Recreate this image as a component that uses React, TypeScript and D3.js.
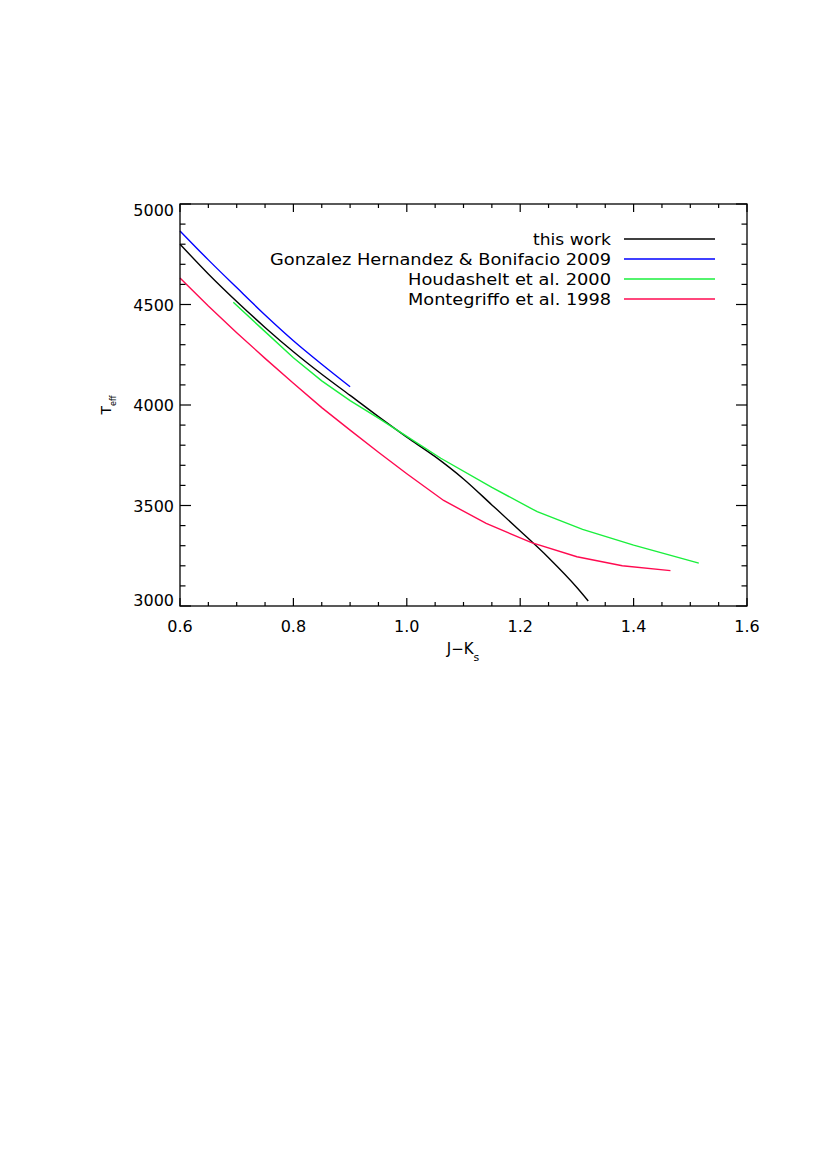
import React from "react";
import * as d3 from "d3";

// J-Ks vs Teff relations
const thisWorkJK = [0.6, 0.65, 0.7, 0.75, 0.8, 0.85, 0.9, 0.95, 1.0, 1.05, 1.1, 1.15, 1.2, 1.25, 1.3, 1.32];
const thisWorkTeff = [4800, 4652, 4515, 4386, 4265, 4153, 4048, 3942, 3840, 3743, 3632, 3503, 3373, 3240, 3092, 3025];

const ghbJK = [0.6, 0.65, 0.7, 0.75, 0.8, 0.85, 0.9];
const ghbTeff = [4866, 4722, 4584, 4448, 4320, 4203, 4091];

const houdJK = [0.694, 0.75, 0.8, 0.85, 0.9, 0.95, 1.0, 1.06, 1.15, 1.23, 1.31, 1.4, 1.515];
const houdTeff = [4511, 4365, 4235, 4120, 4022, 3935, 3844, 3735, 3590, 3469, 3381, 3303, 3213];

const montJK = [0.6, 0.65, 0.7, 0.75, 0.8, 0.85, 0.9, 0.95, 1.0, 1.065, 1.14, 1.22, 1.3, 1.38, 1.465];
const montTeff = [4632, 4492, 4360, 4232, 4108, 3987, 3875, 3765, 3658, 3525, 3411, 3315, 3245, 3200, 3176];

const legendLabels = [
  "this work",
  "Gonzalez Hernandez & Bonifacio 2009",
  "Houdashelt et al. 2000",
  "Montegriffo et al. 1998",
];
const legendWidths = [78, 341, 203, 203];
const colors = ["#000000", "#0000ff", "#1aef3c", "#ff0a50"];

const xMajor = [0.6, 0.8, 1.0, 1.2, 1.4, 1.6];
const yMajor = [3000, 3500, 4000, 4500, 5000];

const FONT = "'DejaVu Sans', 'Liberation Sans', sans-serif";

const App = () => {
  const left = 180, right = 747, top = 204, bottom = 606;
  const x = d3.scaleLinear().domain([0.6, 1.6]).range([left, right]);
  const y = d3.scaleLinear().domain([3000, 5000]).range([bottom, top]);

  const xMinor = d3.range(0, 21).map((i) => 0.6 + i * 0.05);
  const yMinor = d3.range(0, 21).map((i) => 3000 + i * 100);

  const series = [
    { jk: thisWorkJK, t: thisWorkTeff, curve: d3.curveMonotoneX },
    { jk: ghbJK, t: ghbTeff, curve: d3.curveMonotoneX },
    { jk: houdJK, t: houdTeff, curve: d3.curveLinear },
    { jk: montJK, t: montTeff, curve: d3.curveLinear },
  ];

  const isMajorX = (v) => xMajor.some((m) => Math.abs(m - v) < 1e-6);
  const isMajorY = (v) => yMajor.some((m) => Math.abs(m - v) < 1e-6);

  return (
    <svg width={830} height={1175} style={{ position: "absolute", left: 0, top: 0, background: "#fff" }}>
      {/* curves */}
      {series.map((s, i) => {
        const line = d3
          .line()
          .x((d) => x(d[0]))
          .y((d) => y(d[1]))
          .curve(s.curve);
        const pts = s.jk.map((v, j) => [v, s.t[j]]);
        return <path key={i} d={line(pts)} fill="none" stroke={colors[i]} strokeWidth={1.4} />;
      })}

      {/* frame */}
      <rect x={left} y={top} width={right - left} height={bottom - top} fill="none" stroke="#000" strokeWidth={1.3} />

      {/* x ticks, bottom and top */}
      {xMinor.map((v, i) => {
        const len = isMajorX(v) ? 8 : 4;
        return (
          <g key={"xt" + i}>
            <line x1={x(v)} x2={x(v)} y1={bottom} y2={bottom - len} stroke="#000" strokeWidth={1.2} />
            <line x1={x(v)} x2={x(v)} y1={top} y2={top + len} stroke="#000" strokeWidth={1.2} />
          </g>
        );
      })}
      {/* y ticks, left and right */}
      {yMinor.map((v, i) => {
        const len = isMajorY(v) ? 11 : 5.5;
        return (
          <g key={"yt" + i}>
            <line x1={left} x2={left + len} y1={y(v)} y2={y(v)} stroke="#000" strokeWidth={1.2} />
            <line x1={right} x2={right - len} y1={y(v)} y2={y(v)} stroke="#000" strokeWidth={1.2} />
          </g>
        );
      })}

      {/* tick labels */}
      {xMajor.map((v) => (
        <text key={"xl" + v} x={x(v)} y={632} textAnchor="middle" fontFamily={FONT} fontSize={16} fill="#000">
          {d3.format(".1f")(v)}
        </text>
      ))}
      {yMajor.map((v) => {
        let cy = y(v);
        if (v === 5000) cy += 6;
        if (v === 3000) cy -= 6;
        return (
          <text key={"yl" + v} x={174} y={cy + 6} textAnchor="end" fontFamily={FONT} fontSize={16} fill="#000">
            {v}
          </text>
        );
      })}

      {/* axis titles */}
      <text x={463} y={654} textAnchor="middle" fontFamily={FONT} fontSize={15} fill="#000">
        J−K<tspan fontSize={11} dy={7}>s</tspan>
      </text>
      <text
        transform={`translate(111, ${(top + bottom) / 2}) rotate(-90)`}
        textAnchor="middle"
        fontFamily={FONT}
        fontSize={14}
        fill="#000"
      >
        T<tspan fontSize={8} dy={5}>eff</tspan>
      </text>

      {/* legend */}
      {legendLabels.map((lab, i) => {
        const ry = 239 + i * 20;
        return (
          <g key={"lg" + i}>
            <text
              x={611}
              y={ry + 6}
              textAnchor="end"
              fontFamily={FONT}
              fontSize={16}
              textLength={legendWidths[i]}
              lengthAdjust="spacingAndGlyphs"
              fill="#000"
            >
              {lab}
            </text>
            <line x1={624} x2={715} y1={ry} y2={ry} stroke={colors[i]} strokeWidth={1.4} />
          </g>
        );
      })}
    </svg>
  );
};

export default App;
